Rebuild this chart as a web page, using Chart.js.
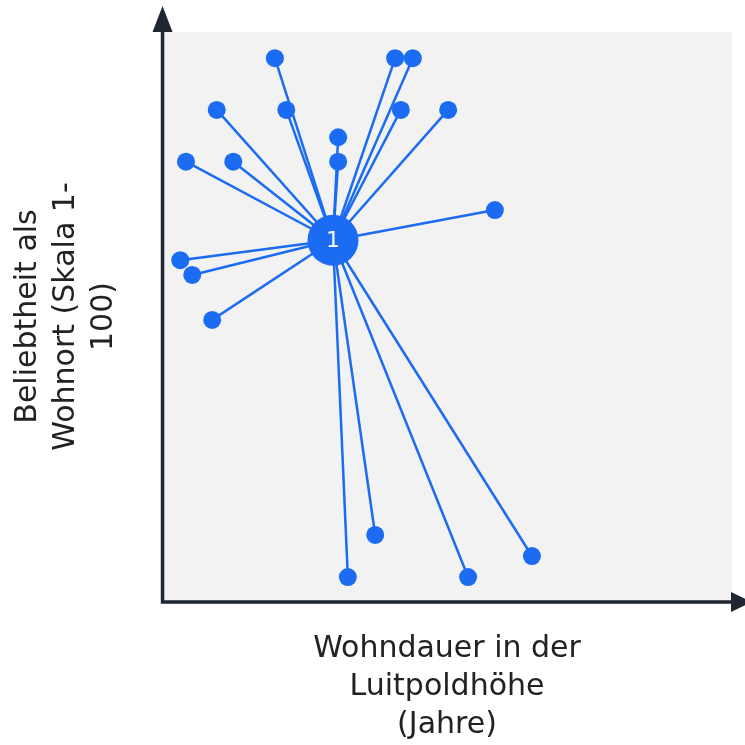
<!DOCTYPE html>
<html>
<head>
<meta charset="utf-8">
<script src="https://cdn.jsdelivr.net/npm/chart.js@4"></script>
<style>
  html, body { margin: 0; padding: 0; background: #fff; }
  #wrap { width: 745px; height: 745px; }
</style>
</head>
<body>
<div id="wrap"><canvas id="scatter_chart"></canvas></div>
<script>
const BLUE = "#1b6cf2";
const AXIS = "#1f2533";

// cluster centre (labelled "1")
const centerX = [30.0];
const centerY = [63.4];
const centerLabels = ["1"];

// member points
const pointX = [19.8, 40.9, 44.0, 9.6, 21.8, 41.9, 50.2, 30.9, 4.2, 12.5, 30.9, 58.4, 3.2, 5.3, 8.8, 37.4, 64.9, 32.6, 53.7];
const pointY = [95.4, 95.4, 95.4, 86.3, 86.3, 86.3, 86.3, 81.5, 77.2, 77.2, 77.2, 68.7, 59.9, 57.3, 49.4, 11.6, 7.9, 4.2, 4.2];

const xTitle = ["Wohndauer in der", "Luitpoldhöhe", "(Jahre)"];
const yTitle = ["Beliebtheit als", "Wohnort (Skala 1-", "100)"];

var points = pointX.map((x, i) => ({ x: x, y: pointY[i] }));
var center = { x: centerX[0], y: centerY[0] };

var spokes = points.map(p => ({
  type: 'line',
  data: [center, p],
  borderColor: BLUE,
  borderWidth: 2.5,
  pointRadius: 0,
  order: 3
}));

// grey plot background + arrow axes + centre label
var decor = {
  id: 'decor',
  beforeDraw(chart) {
    const a = chart.chartArea, ctx = chart.ctx;
    ctx.save();
    ctx.fillStyle = "#f2f2f2";
    ctx.fillRect(a.left, a.top, a.right - a.left, a.bottom - a.top);
    ctx.restore();
  },
  afterDraw(chart) {
    const a = chart.chartArea, ctx = chart.ctx;
    ctx.save();
    ctx.strokeStyle = AXIS;
    ctx.fillStyle = AXIS;
    ctx.lineWidth = 3.5;
    ctx.beginPath();
    ctx.moveTo(a.left + 0.5, a.bottom + 2.5);
    ctx.lineTo(a.left + 0.5, 28);
    ctx.moveTo(a.left - 1, a.bottom + 1);
    ctx.lineTo(735, a.bottom + 1);
    ctx.stroke();
    ctx.beginPath();
    ctx.moveTo(a.left + 0.5, 6);
    ctx.lineTo(a.left - 9.5, 32);
    ctx.lineTo(a.left + 10.5, 32);
    ctx.closePath();
    ctx.fill();
    ctx.beginPath();
    ctx.moveTo(752, a.bottom + 1);
    ctx.lineTo(731, a.bottom - 9);
    ctx.lineTo(731, a.bottom + 11);
    ctx.closePath();
    ctx.fill();
    ctx.restore();
  },
  afterDatasetsDraw(chart) {
    const ctx = chart.ctx;
    const xs = chart.scales.x, ys = chart.scales.y;
    ctx.save();
    ctx.fillStyle = "#ffffff";
    ctx.font = "500 22px 'DejaVu Sans'";
    ctx.textAlign = "center";
    ctx.textBaseline = "middle";
    centerLabels.forEach((t, i) => {
      ctx.fillText(t, xs.getPixelForValue(centerX[i]), ys.getPixelForValue(centerY[i]) + 1);
    });
    ctx.restore();
  }
};

new Chart(document.getElementById('scatter_chart'), {
  type: 'scatter',
  data: {
    datasets: [
      {
        data: [center],
        backgroundColor: BLUE,
        borderWidth: 0,
        pointRadius: 25.5,
        order: 1
      },
      {
        data: points,
        backgroundColor: BLUE,
        borderWidth: 0,
        pointRadius: 9,
        order: 2
      }
    ].concat(spokes)
  },
  options: {
    responsive: true,
    maintainAspectRatio: false,
    animation: false,
    layout: { autoPadding: false, padding: { top: 32, right: 13, left: 0, bottom: 0 } },
    plugins: {
      legend: { display: false },
      tooltip: { enabled: false }
    },
    scales: {
      x: {
        type: 'linear',
        min: 0,
        max: 100,
        grid: { display: false, drawTicks: false },
        border: { display: false },
        ticks: { display: false },
        title: {
          display: true,
          text: xTitle,
          color: "#222",
          font: { family: "DejaVu Sans", size: 30, lineHeight: 1.267 },
          padding: { top: 29, bottom: 1 }
        }
      },
      y: {
        type: 'linear',
        min: 0,
        max: 100,
        grid: { display: false, drawTicks: false },
        border: { display: false },
        ticks: { display: false },
        title: {
          display: true,
          text: yTitle,
          color: "#222",
          font: { family: "DejaVu Sans", size: 30, lineHeight: 1.267 },
          padding: { top: 9, bottom: 39 }
        }
      }
    }
  },
  plugins: [decor]
});
</script>
</body>
</html>
